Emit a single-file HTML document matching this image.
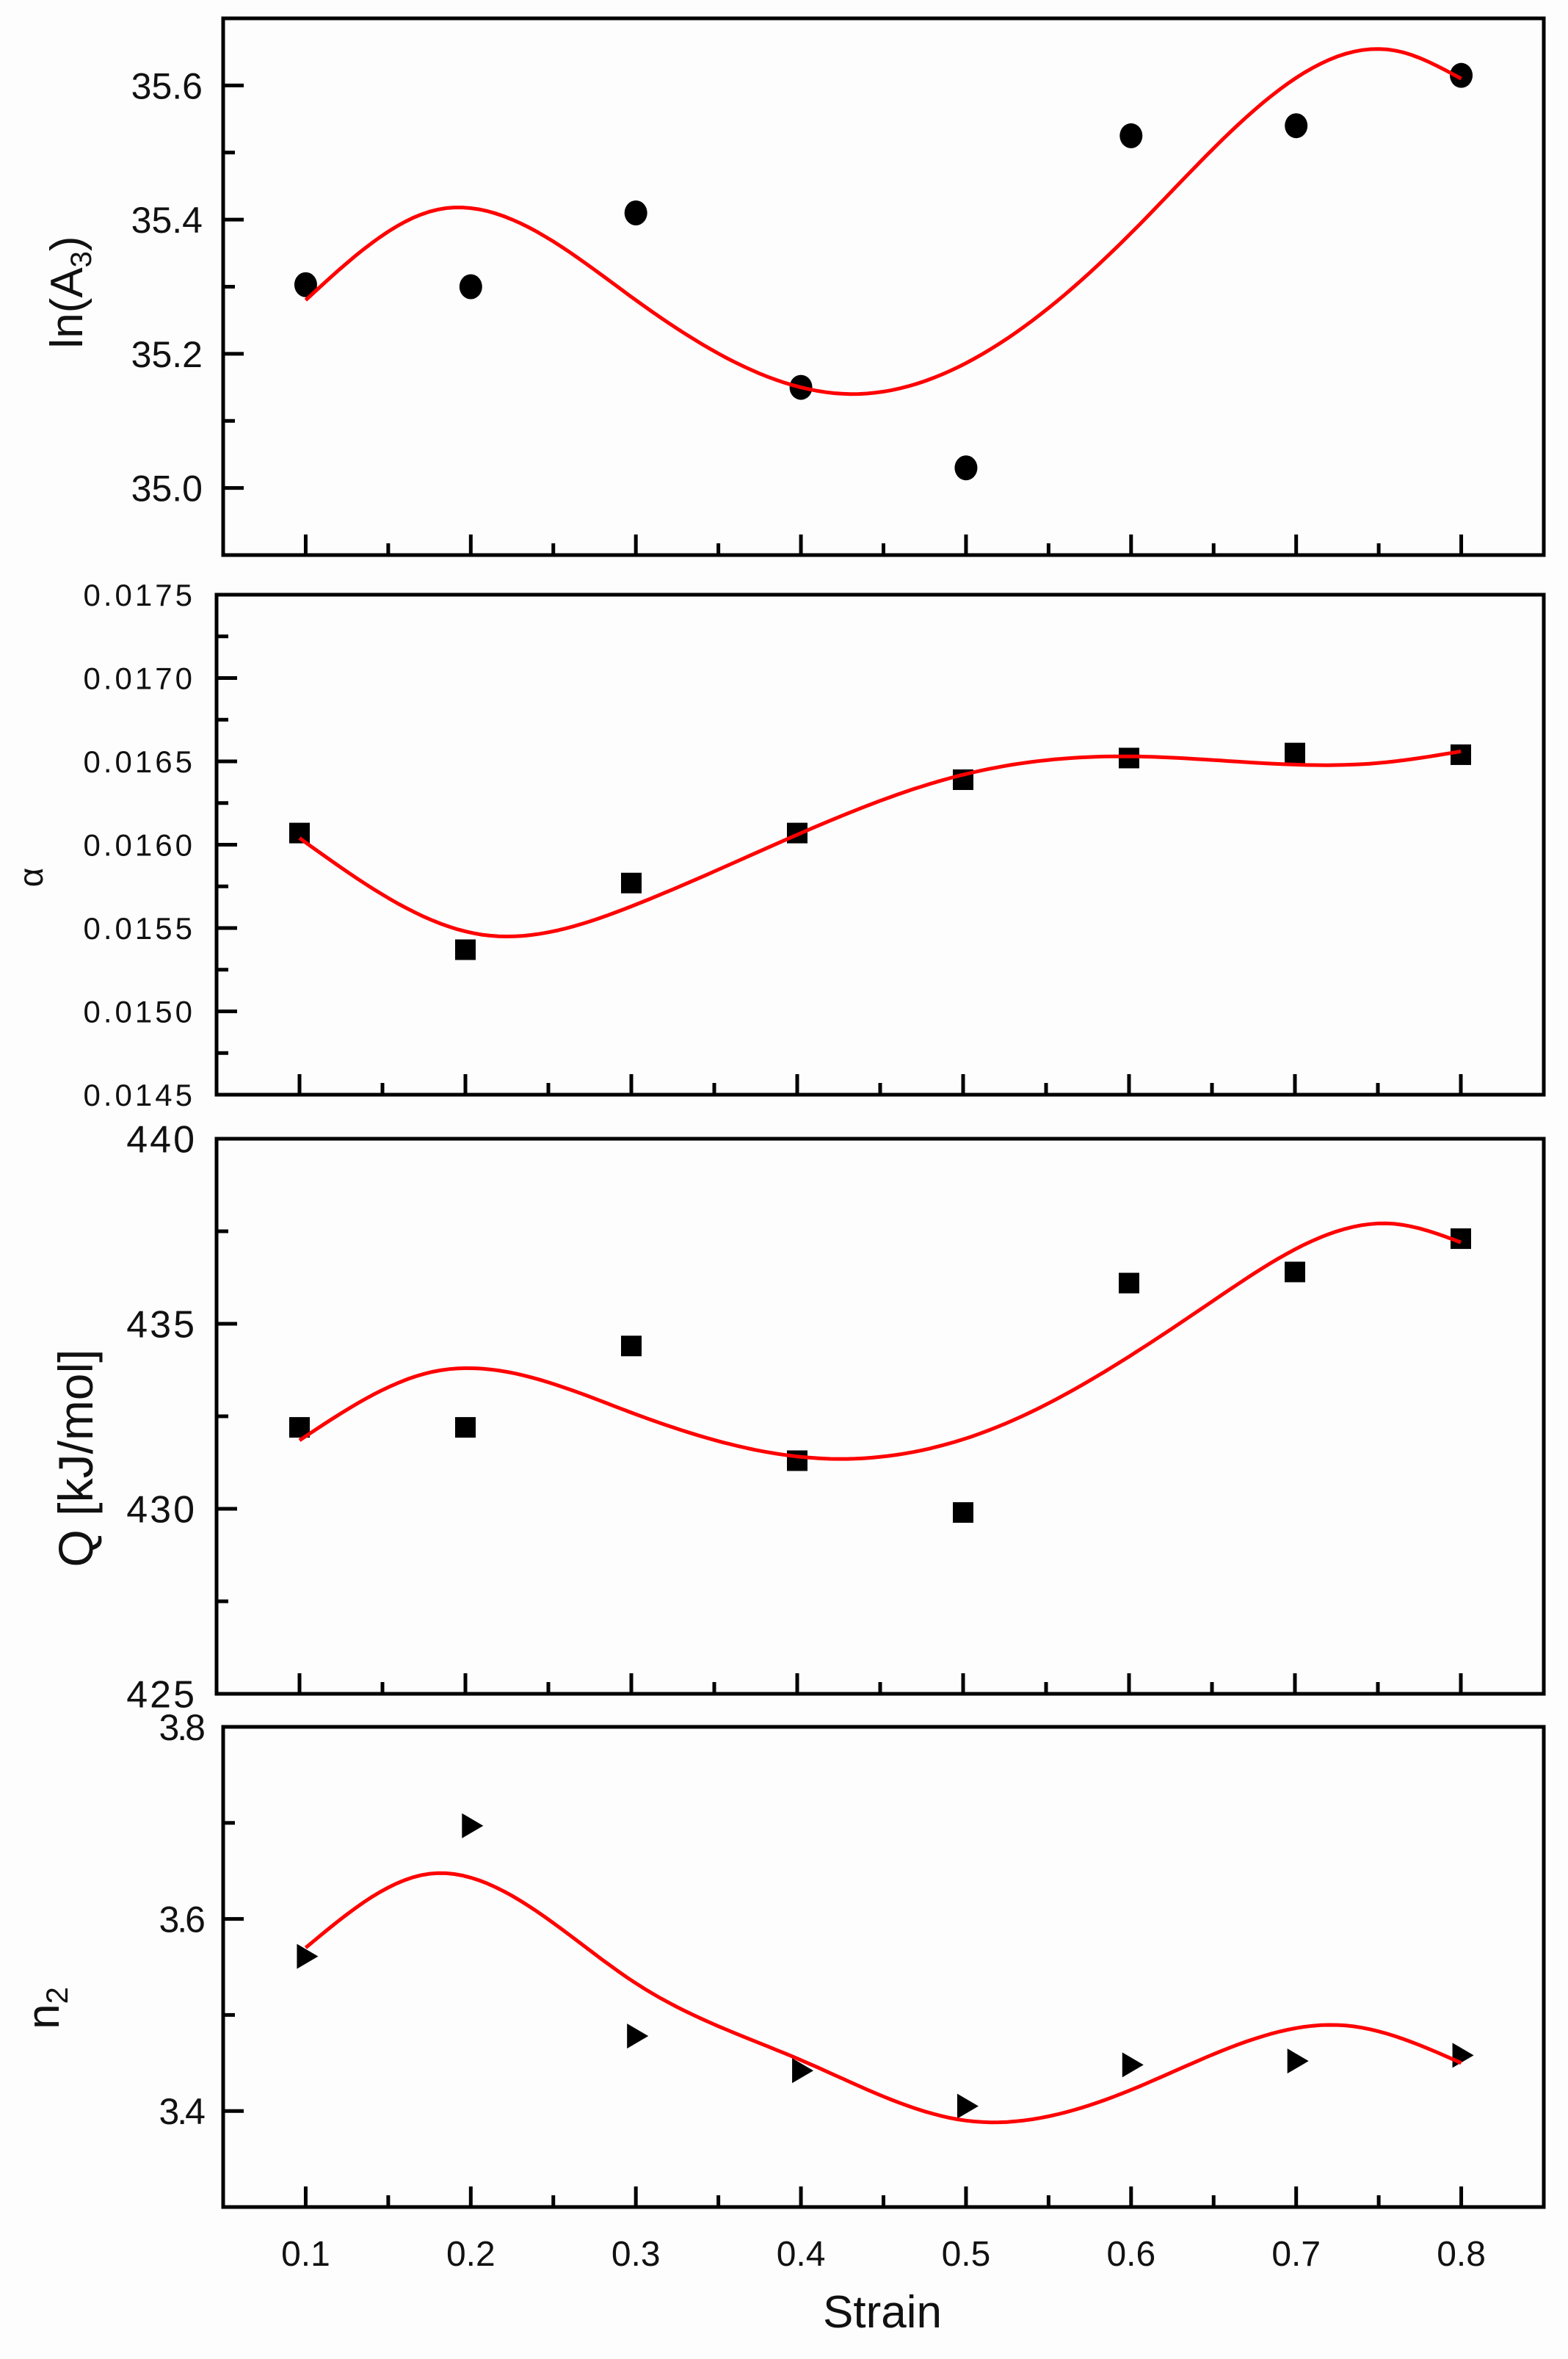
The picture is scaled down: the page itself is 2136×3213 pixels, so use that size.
<!DOCTYPE html>
<html><head><meta charset="utf-8"><style>
html,body{margin:0;padding:0;background:#fdfdfd;}
svg{display:block;}
text{font-family:"Liberation Sans",sans-serif;fill:#111;}
</style></head><body>
<svg id="s" width="2136" height="3213" viewBox="0 0 2136 3213" xmlns="http://www.w3.org/2000/svg"></svg>
<script>
const S=document.getElementById('s');let out='';
const panels=[
 {L:304,T:25,B:756,y0:34.9,y1:35.7,maj:[35.0,35.2,35.4,35.6],min:[34.9,35.1,35.3,35.5,35.7],fmt:v=>v.toFixed(1),fs:50,lx:276,ls:0,
  data:[35.303,35.30,35.41,35.15,35.03,35.525,35.54,35.615],m:'c',
  curve:[[0.1,35.28],[0.18,35.415],[0.3,35.28],[0.43,35.14],[0.6,35.38],[0.76,35.652],[0.8,35.61]],
  title:'ln(A<tspan font-size="40" dy="12">3</tspan><tspan dy="-12">)</tspan>',tx:112,ty:398,tfs:62},
 {L:295,T:810,B:1491,y0:0.0145,y1:0.0175,maj:[0.0145,0.015,0.0155,0.016,0.0165,0.017,0.0175],min:[0.01475,0.01525,0.01575,0.01625,0.01675,0.01725],fmt:v=>v.toFixed(4),fs:42,lx:266,ls:4,
  data:[0.01607,0.01537,0.01577,0.01607,0.01639,0.01652,0.01655,0.01654],m:'s',
  curve:[[0.1,0.01604],[0.21,0.01546],[0.3,0.01563],[0.4,0.01606],[0.5,0.01642],[0.6,0.01653],[0.75,0.01649],[0.8,0.01656]],
  title:'α',tx:58,ty:1195,tfs:46},
 {L:295,T:1551,B:2307,y0:425,y1:440,maj:[425,430,435,440],min:[427.5,432.5,437.5],fmt:v=>v.toFixed(0),fs:52,lx:268,ls:3,
  data:[432.2,432.2,434.4,431.3,429.9,436.1,436.4,437.3],m:'s',
  curve:[[0.1,431.85],[0.18,433.7],[0.3,432.6],[0.42,431.35],[0.52,432.2],[0.65,435.6],[0.76,437.7],[0.8,437.2]],
  title:'Q  [kJ/mol]',tx:126,ty:1986,tfs:66},
 {L:304,T:2352,B:3006,y0:3.3,y1:3.8,maj:[3.4,3.6,3.8],min:[3.3,3.5,3.7],fmt:v=>v.toFixed(1),fs:50,lx:277,ls:-3,
  data:[3.561,3.697,3.478,3.442,3.405,3.448,3.452,3.458],m:'t',
  curve:[[0.1,3.57],[0.175,3.647],[0.3,3.533],[0.4,3.453],[0.5,3.39],[0.6,3.422],[0.73,3.489],[0.8,3.45]],
  title:'n<tspan font-size="42" dy="12">2</tspan>',tx:80,ty:2735,tfs:62}
];
function spline(pts){const n=pts.length,x=pts.map(p=>p[0]),y=pts.map(p=>p[1]);
  const h=[],al=[0],l=[1],mu=[0],z=[0],c=new Array(n).fill(0),b=[],d=[];
  for(let i=0;i<n-1;i++)h[i]=x[i+1]-x[i];
  for(let i=1;i<n-1;i++)al[i]=3/h[i]*(y[i+1]-y[i])-3/h[i-1]*(y[i]-y[i-1]);
  for(let i=1;i<n-1;i++){l[i]=2*(x[i+1]-x[i-1])-h[i-1]*mu[i-1];mu[i]=h[i]/l[i];z[i]=(al[i]-h[i-1]*z[i-1])/l[i];}
  for(let j=n-2;j>=0;j--){c[j]=(j==n-1?0:z[j]-mu[j]*c[j+1]);b[j]=(y[j+1]-y[j])/h[j]-h[j]*(c[j+1]+2*c[j])/3;d[j]=(c[j+1]-c[j])/(3*h[j]);}
  return t=>{let i=0;while(i<n-2&&t>x[i+1])i++;const dx=t-x[i];return y[i]+b[i]*dx+c[i]*dx*dx+d[i]*dx*dx*dx;};}
const R=2103;
panels.forEach((p,i)=>{
  const X=v=>p.L+(v-0.05)/0.8*(R-p.L);
  const Y=v=>p.B-(v-p.y0)/(p.y1-p.y0)*(p.B-p.T);
  out+=`<rect x="${p.L}" y="${p.T}" width="${R-p.L}" height="${p.B-p.T}" fill="none" stroke="#000" stroke-width="5"/>`;
  for(let k=1;k<=8;k++){const x=X(k/10);out+=`<line x1="${x}" x2="${x}" y1="${p.B}" y2="${p.B-28}" stroke="#000" stroke-width="5"/>`;}
  for(let k=1;k<=8;k++){const x=X(k/10-0.05);out+=`<line x1="${x}" x2="${x}" y1="${p.B}" y2="${p.B-16}" stroke="#000" stroke-width="5"/>`;}
  p.maj.forEach(v=>{const y=Y(v);out+=`<line x1="${p.L}" x2="${p.L+28}" y1="${y}" y2="${y}" stroke="#000" stroke-width="5"/>`;
    out+=`<text x="${p.lx}" y="${y+p.fs*0.36}" font-size="${p.fs}" letter-spacing="${p.ls}" text-anchor="end">${p.fmt(v)}</text>`;});
  p.min.forEach(v=>{const y=Y(v);out+=`<line x1="${p.L}" x2="${p.L+16}" y1="${y}" y2="${y}" stroke="#000" stroke-width="5"/>`;});
  const f=spline(p.curve);let d='';
  for(let t=0.1;t<=0.8001;t+=0.005){d+=(d?'L':'M')+X(t).toFixed(1)+','+Y(f(t)).toFixed(1);}
  p.data.forEach((v,j)=>{const x=X((j+1)/10),y=Y(v);
    if(p.m=='c')out+=`<ellipse cx="${x}" cy="${y}" rx="15.5" ry="17" fill="#000"/>`;
    else if(p.m=='s')out+=`<rect x="${x-14}" y="${y-14}" width="28" height="28" fill="#000"/>`;
    else out+=`<polygon points="${x-12},${y-17} ${x+17},${y} ${x-12},${y+17}" fill="#000"/>`;});
  out+=`<path d="${d}" fill="none" stroke="#f00" stroke-width="5"/>`;
  out+=`<text transform="translate(${p.tx},${p.ty}) rotate(-90)" font-size="${p.tfs}" text-anchor="middle">${p.title}</text>`;
  if(i==3){for(let k=1;k<=8;k++){out+=`<text x="${X(k/10)}" y="${3086}" font-size="48" text-anchor="middle">0.${k}</text>`;}
    out+=`<text x="1202" y="3170" font-size="62" text-anchor="middle">Strain</text>`;}
});
S.innerHTML=out;
</script>
</body></html>
